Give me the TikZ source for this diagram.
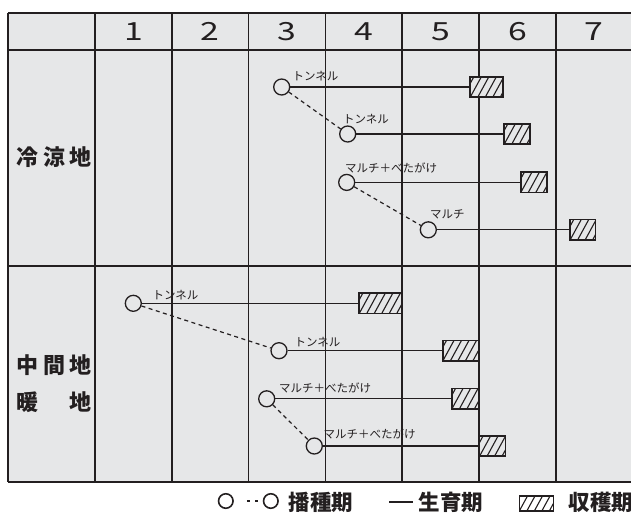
\documentclass[tikz,border=0pt]{standalone}
\usepackage{fontspec}
\setmainfont{Noto Sans CJK JP}
\newfontfamily\digitfont[FakeStretch=1.35]{Noto Sans CJK JP}
\definecolor{bg}{HTML}{E6E7E8}
\definecolor{ink}{HTML}{231F20}
\tikzset{
  gridline/.style={draw=ink, line width=1.6pt},
  thickline/.style={draw=ink, line width=2pt},
  seed/.style={circle, draw=ink, fill=bg, line width=1.3pt, minimum size=16pt, inner sep=0pt},
  smallseed/.style={circle, draw=ink, fill=white, line width=1.6pt, minimum size=14.5pt, inner sep=0pt},
  growline/.style={draw=ink, line width=1.3pt},
  sowdash/.style={draw=ink, line width=1.2pt, dash pattern=on 4pt off 3.5pt},
  harvest/.style={rectangle, draw=ink, fill=bg, line width=1.6pt, inner sep=0pt, minimum height=20.5pt,
    path picture={\foreach \i in {-4,...,7}{\draw[ink, line width=1.1pt] ([xshift=\i*7.5pt]path picture bounding box.south west) -- ++(12pt,22pt);}}},
  lab/.style={font=\fontsize{11.5}{11.5}\selectfont, text=ink, inner sep=0pt, anchor=west},
  head/.style={font=\digitfont\fontsize{25}{25}\selectfont, text=ink, inner sep=0pt},
  rowlab/.style={font=\bfseries\fontsize{22}{22}\selectfont, text=ink, inner sep=0pt, anchor=west},
  legtext/.style={font=\bfseries\fontsize{21.5}{21.5}\selectfont, text=ink, inner sep=0pt, anchor=west},
}
\begin{document}
\begin{tikzpicture}[x=1pt,y=-1pt]
\useasboundingbox (0,0) rectangle (631,512);
\fill[white] (0,0) rectangle (631,512);
\fill[bg] (8,13) rectangle (636,482);
% vertical lines
\foreach \k in {0,...,6}{\draw[gridline] ({95+76.8*\k},13) -- ({95+76.8*\k},482);}
\draw[gridline] (8,13) -- (8,482);
% horizontal lines
\draw[gridline] (8,13) -- (636,13);
\draw[thickline] (8,50) -- (636,50);
\draw[thickline] (8,266) -- (636,266);
\draw[gridline] (8,482) -- (636,482);
% header
\foreach \k in {1,...,7}{\node[head] (h\k) at ({95+76.8*(\k-0.5)},31.5) {\k};}
% row labels
\node[rowlab] (r1) at (16.5,157.5) {\makebox[75pt][l]{冷\hfill 涼\hfill 地}};
\node[rowlab] (r2) at (16.5,365) {\makebox[75pt][l]{中\hfill 間\hfill 地}};
\node[rowlab] (r3) at (16.5,402.5) {\makebox[75pt][l]{暖\hfill 地}};
% cold region
\node[harvest, minimum width=33pt] (b1) at (486.7,87) {};
\node[harvest, minimum width=26pt] (b2) at (517.2,134) {};
\node[harvest, minimum width=26pt] (b3) at (533.7,182.4) {};
\node[harvest, minimum width=25.5pt] (b4) at (582.8,229.8) {};
\node[seed] (c1) at (281.7,87) {};
\node[seed] (c2) at (347.7,134) {};
\node[seed] (c3) at (346.7,182.4) {};
\node[seed] (c4) at (428.3,229.8) {};
\draw[growline] (c1.east) -- (b1.west);
\draw[growline] (c2.east) -- (b2.west);
\draw[growline] (c3.east) -- (b3.west);
\draw[growline] (c4.east) -- (b4.west);
\draw[sowdash] (c1) -- (c2);
\draw[sowdash] (c3) -- (c4);
\node[lab] (l1) at (292.5,76.5) {トンネル};
\node[lab] (l2) at (343,119) {トンネル};
\node[lab] (l3) at (345,167.5) {マルチ＋べたがけ};
\node[lab] (l4) at (430,214.3) {マルチ};
% warm region
\node[harvest, minimum width=43pt] (b5) at (380.7,303.3) {};
\node[harvest, minimum width=36pt] (b6) at (460.8,350.7) {};
\node[harvest, minimum width=27pt] (b7) at (465.3,398.8) {};
\node[harvest, minimum width=26pt] (b8) at (492.5,446) {};
\node[seed] (c5) at (133.3,303.3) {};
\node[seed] (c6) at (279,350.7) {};
\node[seed] (c7) at (266.7,398.8) {};
\node[seed] (c8) at (314.3,446) {};
\draw[growline] (c5.east) -- (b5.west);
\draw[growline] (c6.east) -- (b6.west);
\draw[growline] (c7.east) -- (b7.west);
\draw[growline] (c8.east) -- (b8.west);
\draw[sowdash] (c5) -- (c6);
\draw[sowdash] (c7) -- (c8);
\node[lab] (l5) at (152.3,295) {トンネル};
\node[lab] (l6) at (294.3,342.3) {トンネル};
\node[lab] (l7) at (279,388.3) {マルチ＋べたがけ};
\node[lab] (l8) at (323.3,434.3) {マルチ＋べたがけ};
% legend
\node[smallseed] (s1) at (225.8,501) {};
\node[smallseed] (s2) at (270.8,501) {};
\draw[draw=ink, line width=1.5pt, dash pattern=on 0pt off 13pt on 3.5pt off 5pt on 3pt off 30pt] (s1.east) -- (s2.west);
\node[legtext] (t1) at (288.5,502) {播種期};
\coordinate (g1) at (389.3,502);
\coordinate (g2) at (413.3,502);
\draw[draw=ink, line width=1.8pt] (g1) -- (g2);
\node[legtext] (t2) at (418.3,502) {生育期};
\node[harvest, fill=white, minimum width=34pt, minimum height=15pt] (hb) at (536.3,503.5) {};
\node[legtext] (t3) at (568.3,502) {収穫期};
\end{tikzpicture}
\end{document}
